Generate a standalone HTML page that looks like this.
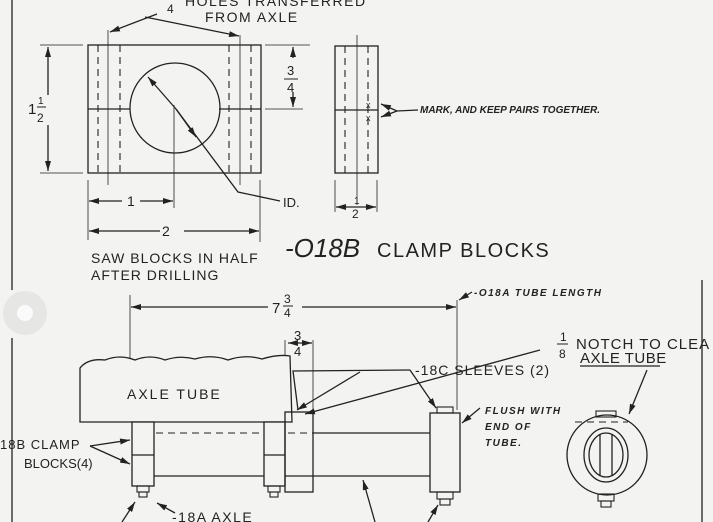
<!DOCTYPE html>
<html><head><style>
html,body{margin:0;padding:0;background:#f3f3f1;}
svg{display:block}
text{font-family:"Liberation Sans",sans-serif;fill:#222}
.i{font-style:italic;font-weight:bold;font-size:10px}
</style></head><body>
<svg width="713" height="522" viewBox="0 0 713 522" xmlns="http://www.w3.org/2000/svg">
<defs>
<marker id="a" viewBox="0 0 10 6" refX="10" refY="3" markerWidth="10" markerHeight="6" orient="auto-start-reverse" markerUnits="userSpaceOnUse"><path d="M0,0 L10,3 L0,6 z" fill="#222"/></marker>
</defs>
<rect width="713" height="522" fill="#f3f3f1"/>
<g stroke="#222" fill="none" stroke-width="1.3">
<line x1="12" y1="0" x2="12" y2="290"/><line x1="12" y1="338" x2="12" y2="522"/>
<line x1="702" y1="280" x2="702" y2="522"/>
<rect x="88" y="45" width="173" height="128"/>
<line x1="88" y1="109" x2="130" y2="109"/><line x1="219" y1="109" x2="261" y2="109"/>
<circle cx="175" cy="108" r="45"/>
<g stroke-dasharray="7,5" stroke-width="1.1">
<line x1="98" y1="45" x2="98" y2="173"/><line x1="120" y1="45" x2="120" y2="173"/>
<line x1="229" y1="45" x2="229" y2="173"/><line x1="251" y1="45" x2="251" y2="173"/>
<line x1="345" y1="46" x2="345" y2="173"/><line x1="368" y1="46" x2="368" y2="173"/>
</g>
<g stroke-width="0.8">
<line x1="108" y1="30" x2="108" y2="185"/><line x1="240" y1="35" x2="240" y2="185"/>
<line x1="174" y1="105" x2="174" y2="208"/>
<line x1="357" y1="35" x2="357" y2="205"/>
<line x1="40" y1="45" x2="83" y2="45"/><line x1="40" y1="173" x2="83" y2="173"/>
<line x1="265" y1="45" x2="310" y2="45"/><line x1="265" y1="109" x2="303" y2="109"/>
<line x1="88" y1="180" x2="88" y2="240"/><line x1="260" y1="180" x2="260" y2="242"/>
<line x1="335" y1="180" x2="335" y2="212"/><line x1="377" y1="180" x2="377" y2="212"/>
</g>
<line x1="48" y1="95" x2="48" y2="47" marker-end="url(#a)"/>
<line x1="48" y1="125" x2="48" y2="171" marker-end="url(#a)"/>
<line x1="293" y1="58" x2="293" y2="47" marker-end="url(#a)"/>
<line x1="293" y1="92" x2="293" y2="107" marker-end="url(#a)"/>
<line x1="122" y1="201" x2="89" y2="201" marker-end="url(#a)"/>
<line x1="140" y1="201" x2="173" y2="201" marker-end="url(#a)"/>
<line x1="160" y1="231" x2="89" y2="231" marker-end="url(#a)"/>
<line x1="184" y1="231" x2="259" y2="231" marker-end="url(#a)"/>
<line x1="336" y1="207" x2="376" y2="207" marker-start="url(#a)" marker-end="url(#a)"/>
<line x1="157" y1="14" x2="110" y2="32" marker-end="url(#a)"/>
<line x1="145" y1="17" x2="239" y2="36" marker-end="url(#a)"/>
<path d="M280,201 L238,192 L176,109"/>
<line x1="176" y1="109" x2="148" y2="77" marker-end="url(#a)"/>
<line x1="176" y1="109" x2="196" y2="137" marker-end="url(#a)"/>
<rect x="335" y="46" width="43" height="127"/>
<line x1="335" y1="110" x2="378" y2="110"/>
<path d="M418,110 L397,111 L381,104" marker-end="url(#a)"/>
<path d="M397,111 L381,117" marker-end="url(#a)"/>
<line x1="130" y1="295" x2="130" y2="358" stroke-width="0.8"/>
<line x1="457" y1="300" x2="457" y2="410" stroke-width="0.8"/>
<line x1="268" y1="307" x2="131" y2="307" marker-end="url(#a)"/>
<line x1="302" y1="307" x2="456" y2="307" marker-end="url(#a)"/>
<line x1="472" y1="292" x2="459" y2="300" marker-end="url(#a)"/>
<line x1="285" y1="340" x2="285" y2="410" stroke-width="0.8"/>
<line x1="313" y1="340" x2="313" y2="410" stroke-width="0.8"/>
<line x1="288" y1="343" x2="312" y2="343" marker-start="url(#a)" marker-end="url(#a)"/>
<path d="M80,422 L80,368 Q88,358 105,360 Q120,354 135,360 Q150,354 165,360 Q180,355 195,359 Q212,354 228,360 Q245,354 262,359 Q278,354 290,356 L292,422 Z" fill="#f3f3f1"/>
<line x1="154" y1="476" x2="430" y2="476"/>
<line x1="313" y1="433" x2="430" y2="433"/>
<g stroke-dasharray="7,5" stroke-width="1.1">
<line x1="132" y1="433" x2="313" y2="433"/><line x1="132" y1="476" x2="154" y2="476"/>
<line x1="264" y1="476" x2="313" y2="476"/>
<line x1="430" y1="433" x2="460" y2="433"/><line x1="430" y1="476" x2="460" y2="476"/>
<line x1="575" y1="422" x2="628" y2="422"/>
</g>
<rect x="132" y="422" width="22" height="64" fill="#f3f3f1"/><line x1="132" y1="455" x2="154" y2="455"/>
<rect x="264" y="422" width="21" height="64" fill="#f3f3f1"/><line x1="264" y1="455" x2="285" y2="455"/>
<rect x="285" y="412" width="28" height="80"/>
<rect x="430" y="413" width="30" height="79" fill="#f3f3f1"/>
<g stroke-width="1.1">
<rect x="137" y="486" width="12" height="6"/><rect x="139" y="492" width="8" height="5"/>
<rect x="268" y="486" width="12" height="6"/><rect x="270" y="492" width="8" height="5"/>
<rect x="437" y="492" width="16" height="7"/><rect x="440" y="499" width="10" height="6"/>
<rect x="437" y="407" width="16" height="6"/>
<rect x="596" y="411" width="20" height="6"/>
<rect x="598" y="494" width="16" height="7"/><rect x="601" y="501" width="10" height="6"/>
</g>
<ellipse cx="607" cy="455" rx="40" ry="40"/>
<ellipse cx="606" cy="455" rx="22" ry="27"/><ellipse cx="606" cy="455" rx="17" ry="22"/>
<line x1="600" y1="434" x2="600" y2="476"/><line x1="612" y1="434" x2="612" y2="476"/>
<path d="M410,370 L293,371 L298,410"/>
<line x1="360" y1="372" x2="297" y2="410" marker-end="url(#a)"/>
<line x1="540" y1="350" x2="305" y2="414" marker-end="url(#a)"/>
<line x1="410" y1="370" x2="436" y2="408" marker-end="url(#a)"/>
<line x1="480" y1="408" x2="462" y2="423" marker-end="url(#a)"/>
<line x1="647" y1="370" x2="629" y2="414" marker-end="url(#a)"/>
<path d="M90,446 L130,440" marker-end="url(#a)"/>
<path d="M90,446 L130,464" marker-end="url(#a)"/>
<line x1="580" y1="366" x2="660" y2="366"/>
<line x1="175" y1="513" x2="157" y2="503" marker-end="url(#a)"/>
<line x1="122" y1="522" x2="135" y2="502" marker-end="url(#a)"/>
<line x1="375" y1="522" x2="363" y2="480" marker-end="url(#a)"/>
<line x1="428" y1="522" x2="438" y2="505" marker-end="url(#a)"/>
</g>
<circle cx="25" cy="313" r="22" fill="#e6e6e4"/><circle cx="25" cy="313" r="8" fill="#fafafa"/>
<text x="185" y="6" font-size="14" letter-spacing="1.5">HOLES  TRANSFERRED</text>
<text x="167" y="13" font-size="12">4</text>
<text x="205" y="22" font-size="14" letter-spacing="1.5">FROM  AXLE</text>
<text x="28" y="114" font-size="15">1</text><text x="38" y="104" font-size="10">1</text>
<line x1="37" y1="107" x2="46" y2="107" stroke="#222"/><text x="37" y="122" font-size="12">2</text>
<text x="287" y="75" font-size="13">3</text><line x1="284" y1="79" x2="298" y2="79" stroke="#222"/><text x="287" y="92" font-size="13">4</text>
<text x="127" y="206" font-size="14">1</text>
<text x="162" y="236" font-size="14">2</text>
<text x="283" y="207" font-size="13">ID.</text>
<text x="366" y="108" font-size="9">x</text><text x="366" y="121" font-size="9">x</text>
<text x="420" y="113" class="i" font-size="9">MARK, AND KEEP PAIRS TOGETHER.</text>
<text x="354" y="204" font-size="10">1</text><text x="352" y="218" font-size="12">2</text>
<text x="285" y="257" font-size="26" font-style="italic">-O18B</text>
<text x="377" y="257" font-size="20" letter-spacing="1.5">CLAMP  BLOCKS</text>
<text x="91" y="263" font-size="14" letter-spacing="1">SAW BLOCKS IN HALF</text>
<text x="91" y="280" font-size="14" letter-spacing="1">AFTER DRILLING</text>
<text x="474" y="296" class="i" font-size="9" letter-spacing="1.5">-O18A TUBE LENGTH</text>
<text x="272" y="313" font-size="15">7</text><text x="284" y="303" font-size="12">3</text>
<line x1="283" y1="306" x2="293" y2="306" stroke="#222"/><text x="284" y="317" font-size="12">4</text>
<text x="294" y="340" font-size="13">3</text><line x1="291" y1="343" x2="303" y2="343" stroke="#222"/><text x="294" y="356" font-size="13">4</text>
<text x="560" y="341" font-size="12">1</text><line x1="557" y1="344" x2="568" y2="344" stroke="#222"/><text x="559" y="358" font-size="12">8</text>
<text x="576" y="349" font-size="15" letter-spacing="1">NOTCH  TO CLEA</text>
<text x="580" y="363" font-size="15" letter-spacing="0.5">AXLE  TUBE</text>
<text x="415" y="375" font-size="14" letter-spacing="1">-18C SLEEVES (2)</text>
<text x="127" y="399" font-size="14" letter-spacing="2">AXLE  TUBE</text>
<text x="485" y="414" class="i" font-size="12" letter-spacing="1.5">FLUSH WITH</text>
<text x="485" y="430" class="i" font-size="12" letter-spacing="1.5">END  OF</text>
<text x="485" y="446" class="i" font-size="12" letter-spacing="1.5">TUBE.</text>
<text x="0" y="449" font-size="13" letter-spacing="1">18B CLAMP</text>
<text x="24" y="468" font-size="13">BLOCKS(4)</text>
<text x="172" y="522" font-size="14" letter-spacing="1.5">-18A  AXLE</text>
</svg>
</body></html>
